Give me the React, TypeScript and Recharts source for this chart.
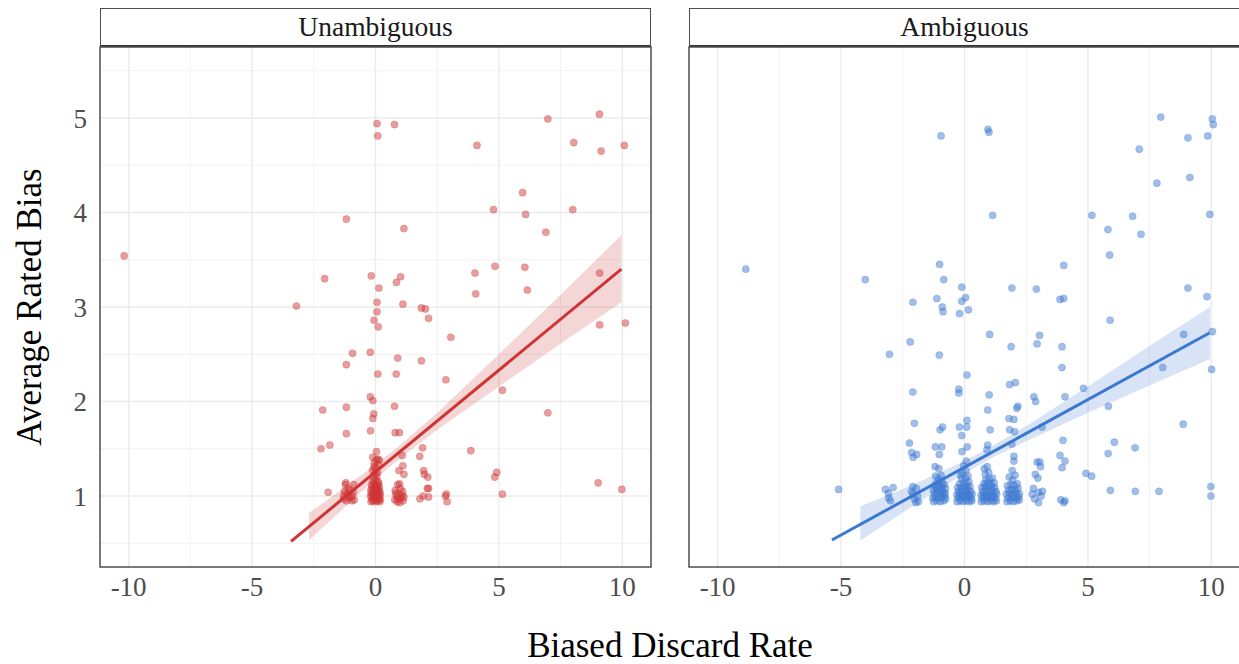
import React from 'react';
import {
  ComposedChart,
  XAxis,
  YAxis,
  CartesianGrid,
  Scatter,
  Line,
  Area,
  ReferenceArea,
} from 'recharts';

// ---- axes ----
const X_DOMAIN: [number, number] = [-11.16, 11.16];
const Y_DOMAIN: [number, number] = [0.249, 5.751];
const xTicks = [-10, -5, 0, 5, 10];
const xMinor = [-7.5, -2.5, 2.5, 7.5];
const yTicks = [1, 2, 3, 4, 5];
const yMinor = [0.5, 1.5, 2.5, 3.5, 4.5, 5.5];

const panelTitles = ['Unambiguous', 'Ambiguous'];
const xTitle = 'Biased Discard Rate';
const yTitle = 'Average Rated Bias';

// ---- Unambiguous condition ----
const unambPoints: [number, number][] = [
  [-10.18, 3.54], [0.06, 4.94], [0.77, 4.93], [0.09, 4.81], [6.98, 4.99], [9.07, 5.04],
  [4.11, 4.71], [8.03, 4.74], [9.14, 4.65], [10.08, 4.71], [5.96, 4.21], [4.78, 4.03],
  [6.08, 3.98], [7.99, 4.03], [6.9, 3.79], [-1.18, 3.93], [1.15, 3.83], [-2.06, 3.3],
  [-0.17, 3.33], [1.02, 3.32], [0.85, 3.26], [4.03, 3.36], [4.84, 3.43], [6.05, 3.42],
  [9.08, 3.36], [0.14, 3.2], [4.06, 3.14], [6.15, 3.18], [-3.2, 3.01], [0.06, 3.05],
  [1.11, 3.03], [1.86, 2.99], [2.02, 2.98], [0.06, 2.95], [2.15, 2.88], [-0.06, 2.86],
  [0.11, 2.79], [3.05, 2.68], [9.08, 2.81], [10.12, 2.83],
  [-0.93, 2.51], [-0.21, 2.52], [-1.18, 2.39], [0.9, 2.46], [1.86, 2.43], [0.09, 2.29],
  [0.84, 2.29], [2.85, 2.23], [5.14, 2.12], [-0.21, 2.05], [-0.11, 2.01], [-2.14, 1.91],
  [-1.18, 1.94], [0.77, 1.95], [-0.07, 1.87], [-0.11, 1.82], [6.98, 1.88], [-1.18, 1.66],
  [-0.2, 1.69], [0.8, 1.67], [0.97, 1.67], [-2.21, 1.5], [-1.85, 1.54], [3.86, 1.48],
  [0.04, 1.47], [1.91, 1.51], [1.79, 1.42], [-0.11, 1.41], [0.09, 1.39], [0.16, 1.38],
  [1.08, 1.43], [-0.06, 1.31], [1.11, 1.32], [0.95, 1.27], [1.95, 1.27], [1.15, 1.23],
  [1.98, 1.23], [2.12, 1.2], [4.91, 1.25], [4.83, 1.2], [9.02, 1.14], [9.98, 1.07],
  [5.14, 1.02], [-1.92, 1.04],
  // around 2 and 3
  [2.83, 1.0], [2.87, 1.02], [2.9, 0.94], [1.8, 0.97], [1.93, 1.0], [2.15, 0.99],
  [2.1, 1.08], [2.15, 1.08],
  // around -1
  [-1.2, 1.14], [-1.22, 1.12], [-0.88, 1.12], [-1.25, 1.05], [-1.15, 1.02], [-1.05, 0.98],
  [-0.95, 1.0], [-1.3, 0.97], [-1.18, 0.95], [-1.1, 1.08], [-0.9, 1.04], [-0.95, 0.95],
  [-1.28, 1.01], [-1.02, 1.06], [-1.12, 0.99], [-0.86, 0.96],
  // around 1
  [0.9, 1.12], [0.98, 1.13], [0.8, 1.06], [1.1, 1.05], [0.85, 1.0], [0.95, 1.02],
  [1.05, 0.98], [0.78, 0.96], [1.12, 0.95], [0.88, 0.94], [1.0, 1.08], [0.92, 0.97],
  [1.08, 1.01], [0.82, 1.03], [1.15, 0.99], [0.98, 0.93],
  // around 0
  [-0.18, 0.94], [-0.1, 0.95], [0.0, 0.94], [0.08, 0.95], [0.17, 0.94],
  [-0.15, 0.97], [-0.05, 0.98], [0.05, 0.97], [0.14, 0.98], [0.2, 0.96],
  [-0.2, 1.0], [-0.12, 1.01], [-0.02, 1.0], [0.1, 1.01], [0.18, 1.0],
  [-0.17, 1.03], [-0.07, 1.04], [0.03, 1.03], [0.12, 1.04], [0.19, 1.03],
  [-0.19, 1.06], [-0.09, 1.07], [0.01, 1.06], [0.09, 1.07], [0.16, 1.06],
  [-0.14, 1.09], [-0.04, 1.1], [0.06, 1.09], [0.15, 1.1],
  [-0.16, 1.12], [-0.06, 1.13], [0.04, 1.12], [0.13, 1.13],
  [-0.1, 1.16], [0.02, 1.17], [0.11, 1.15],
  [-0.08, 1.2], [0.05, 1.21], [-0.02, 1.24], [0.08, 1.25], [-0.12, 1.27], [0.0, 1.3],
  [0.12, 1.33], [-0.05, 1.35], [0.03, 1.38],
];
const unambFitX = [-3.42, 9.96];
const unambFitY = [0.52, 3.4];
const unambBandX = [-2.69, 0, 1, 2.5, 5, 7.5, 9.96];
const unambBandLo = [0.535, 1.18, 1.4, 1.7, 2.16, 2.61, 3.05];
const unambBandHi = [0.82, 1.33, 1.54, 1.88, 2.5, 3.13, 3.76];

// ---- Ambiguous condition ----
const ambPoints: [number, number][] = [
  [-8.86, 3.4], [-0.95, 4.81], [0.95, 4.88], [0.99, 4.85], [7.95, 5.01], [10.04, 4.99],
  [10.08, 4.93], [9.05, 4.79], [9.85, 4.81], [7.08, 4.67], [7.79, 4.31], [9.13, 4.37],
  [1.14, 3.97], [5.16, 3.97], [6.81, 3.96], [9.94, 3.98], [5.81, 3.82], [7.15, 3.77],
  [5.88, 3.55], [-1.01, 3.45], [-4.02, 3.29], [-0.84, 3.29], [4.02, 3.44], [-0.11, 3.21],
  [1.92, 3.2], [2.91, 3.19], [-2.09, 3.05], [-1.12, 3.09], [-0.11, 3.06], [0.04, 3.1],
  [3.87, 3.08], [4.02, 3.09], [-0.9, 3.0], [-0.87, 2.95], [-0.2, 2.93], [0.16, 2.97],
  [9.05, 3.2], [9.82, 3.11], [5.9, 2.86], [1.02, 2.71], [3.04, 2.7], [-2.2, 2.63],
  [8.88, 2.71], [10.04, 2.74],
  [-3.04, 2.5], [-1.02, 2.49], [1.89, 2.58], [2.94, 2.61], [3.95, 2.58], [3.95, 2.36],
  [8.03, 2.36], [10.01, 2.34], [0.1, 2.28], [-2.09, 2.1], [-0.23, 2.13], [-0.23, 2.09],
  [1.0, 2.07], [1.83, 2.18], [2.06, 2.2], [2.81, 2.05], [2.88, 2.0], [4.07, 2.05],
  [4.82, 2.14], [5.83, 1.95], [0.94, 1.91], [2.12, 1.93], [2.16, 1.95], [-2.03, 1.77],
  [-0.99, 1.7], [-0.89, 1.73], [0.1, 1.8], [-0.21, 1.73], [0.09, 1.73], [1.8, 1.82],
  [2.0, 1.81], [1.04, 1.7], [1.83, 1.7], [2.03, 1.68], [3.14, 1.73], [8.86, 1.76],
  [-0.11, 1.64], [1.92, 1.55], [3.99, 1.59], [6.07, 1.57], [6.91, 1.51], [-2.23, 1.56],
  [-2.14, 1.46], [-1.94, 1.44], [-2.08, 1.41], [-1.18, 1.52], [-0.92, 1.52], [-1.02, 1.44],
  [-0.1, 1.47], [0.11, 1.52], [0.94, 1.54], [0.91, 1.49], [3.87, 1.43], [4.07, 1.37],
  [3.95, 1.3], [5.82, 1.45], [2.0, 1.42], [2.0, 1.37], [2.94, 1.36], [3.05, 1.36],
  [3.08, 1.31], [-1.19, 1.31], [-1.04, 1.29], [0.07, 1.37], [-0.04, 1.32], [4.92, 1.24],
  [5.15, 1.21], [2.87, 1.23], [2.97, 1.19], [-5.1, 1.07], [-3.2, 1.07], [-2.89, 1.09],
  [-3.08, 1.03], [-3.07, 0.98], [-3.0, 0.95], [5.91, 1.06], [6.92, 1.05], [7.88, 1.05],
  [9.98, 1.1], [9.98, 1.0], [3.9, 0.96], [4.07, 0.95], [4.02, 0.93],
  // around 3
  [2.79, 1.08], [3.0, 1.04], [3.16, 1.05], [2.74, 1.02], [2.84, 0.97], [3.0, 0.93], [3.1, 1.0],
  // around -2
  [-2.09, 1.1], [-1.95, 1.08], [-2.09, 1.02], [-1.87, 0.94], [-1.97, 0.93], [-2.15, 1.05],
  [-1.9, 1.0], [-2.03, 0.97],
  // around -1
  [-1.25, 0.94], [-1.12, 0.95], [-0.98, 0.94], [-0.84, 0.95], [-0.76, 0.97],
  [-1.28, 0.98], [-1.18, 0.99], [-1.05, 0.98], [-0.92, 0.99], [-0.8, 1.0],
  [-1.22, 1.02], [-1.09, 1.03], [-0.96, 1.02], [-0.86, 1.04], [-0.78, 1.03],
  [-1.26, 1.06], [-1.14, 1.07], [-1.01, 1.06], [-0.89, 1.07], [-0.77, 1.08],
  [-1.2, 1.1], [-1.06, 1.11], [-0.94, 1.1], [-0.82, 1.12],
  [-1.17, 1.13], [-1.03, 1.15], [-0.9, 1.14], [-1.05, 1.18], [-1.17, 1.21], [-0.95, 1.22],
  // around 0
  [-0.3, 0.94], [-0.18, 0.95], [-0.05, 0.94], [0.08, 0.95], [0.2, 0.94], [0.3, 0.95],
  [-0.26, 0.98], [-0.12, 0.99], [0.02, 0.98], [0.15, 0.99], [0.27, 0.98],
  [-0.31, 1.01], [-0.2, 1.02], [-0.07, 1.01], [0.06, 1.02], [0.19, 1.01], [0.31, 1.02],
  [-0.25, 1.05], [-0.1, 1.06], [0.03, 1.05], [0.13, 1.06], [0.25, 1.05],
  [-0.28, 1.09], [-0.15, 1.09], [0.0, 1.1], [0.11, 1.09], [0.22, 1.1],
  [-0.2, 1.13], [-0.04, 1.14], [0.09, 1.13], [0.18, 1.15],
  [-0.12, 1.18], [0.04, 1.19], [0.14, 1.21], [-0.08, 1.24], [0.06, 1.27], [-0.16, 1.22],
  // around 1
  [0.68, 0.94], [0.8, 0.95], [0.93, 0.94], [1.06, 0.95], [1.18, 0.94], [1.29, 0.95],
  [0.72, 0.98], [0.86, 0.99], [0.99, 0.98], [1.12, 0.99], [1.25, 0.98],
  [0.67, 1.01], [0.78, 1.02], [0.91, 1.01], [1.04, 1.02], [1.17, 1.01], [1.3, 1.02],
  [0.74, 1.05], [0.88, 1.06], [1.01, 1.05], [1.14, 1.06], [1.27, 1.05],
  [0.7, 1.09], [0.83, 1.1], [0.96, 1.09], [1.09, 1.1], [1.22, 1.09],
  [0.79, 1.13], [0.94, 1.14], [1.07, 1.13], [1.2, 1.14],
  [0.86, 1.17], [1.0, 1.18], [1.13, 1.19], [0.84, 1.23], [0.98, 1.25], [0.8, 1.29], [0.92, 1.31],
  // around 2
  [1.72, 0.94], [1.85, 0.95], [1.98, 0.94], [2.12, 0.95], [2.22, 0.96],
  [1.76, 0.98], [1.9, 0.99], [2.04, 0.98], [2.18, 0.99],
  [1.7, 1.02], [1.83, 1.03], [1.96, 1.02], [2.1, 1.03], [2.23, 1.02],
  [1.78, 1.06], [1.92, 1.07], [2.06, 1.06], [2.17, 1.08],
  [1.74, 1.11], [1.88, 1.12], [2.02, 1.11], [2.14, 1.13],
  [1.95, 1.17], [1.81, 1.2], [2.05, 1.22], [1.93, 1.27],
];
const ambFitX = [-5.37, 9.92];
const ambFitY = [0.535, 2.725];
const ambBandX = [-4.22, -2, 0, 1, 2.5, 5, 7.5, 9.95];
const ambBandLo = [0.53, 0.91, 1.235, 1.39, 1.58, 1.88, 2.17, 2.45];
const ambBandHi = [0.89, 1.13, 1.37, 1.51, 1.74, 2.16, 2.59, 3.0];

const RED = '#CF3434';
const BLUE = '#3B78D1';
const SERIF = '"Liberation Serif", "Times New Roman", serif';
const BORDER = '#4d4d4d';

type PanelProps = {
  left: number;
  title: string;
  color: string;
  points: [number, number][];
  fitX: number[];
  fitY: number[];
  bandX: number[];
  bandLo: number[];
  bandHi: number[];
  showY: boolean;
};

const CHART_W = 660;
const CHART_H = 664;
const MARGIN = { top: 47, right: 9, bottom: 57, left: 30 };
const Y_AXIS_W = 70;

function Panel(p: PanelProps) {
  const pts = p.points.map(([x, y]) => ({ x, y }));
  const fit = p.fitX.map((x, i) => ({ x, y: p.fitY[i] }));
  const band = p.bandX.map((x, i) => ({ x, range: [p.bandLo[i], p.bandHi[i]] }));
  const tickStyle = { fontFamily: SERIF, fontSize: 27, fill: '#4d4d4d' };
  const dot = (props: any) => (
    <circle
      cx={props.cx}
      cy={props.cy}
      r={3.6}
      fill={p.color}
      fillOpacity={0.48}
      stroke={p.color}
      strokeOpacity={0.3}
      strokeWidth={0.8}
    />
  );
  const plotLeft = MARGIN.left + Y_AXIS_W;
  const plotW = CHART_W - plotLeft - MARGIN.right;
  return (
    <div style={{ position: 'absolute', left: p.left, top: 0, width: CHART_W, height: CHART_H }}>
      <div
        style={{
          position: 'absolute',
          left: plotLeft,
          top: 8,
          width: plotW,
          height: 39,
          boxSizing: 'border-box',
          border: `1.5px solid ${BORDER}`,
          borderBottom: '2px solid #333',
          display: 'flex',
          alignItems: 'center',
          justifyContent: 'center',
          fontFamily: SERIF,
          fontSize: 27.5,
          color: '#1a1a1a',
          background: '#fff',
        }}
      >
        {p.title}
      </div>
      <ComposedChart width={CHART_W} height={CHART_H} margin={MARGIN}>
        <CartesianGrid
          stroke="#f1f1f1"
          strokeWidth={1}
          horizontalValues={yMinor}
          verticalValues={xMinor}
        />
        <CartesianGrid
          stroke="#ebebeb"
          strokeWidth={1.4}
          horizontalValues={yTicks}
          verticalValues={xTicks}
        />
        <XAxis
          type="number"
          dataKey="x"
          domain={X_DOMAIN}
          ticks={xTicks}
          allowDataOverflow
          axisLine={false}
          tickLine={false}
          tickSize={6}
          tickMargin={4}
          height={40}
          tick={tickStyle}
        />
        <YAxis
          type="number"
          dataKey="y"
          domain={Y_DOMAIN}
          ticks={yTicks}
          allowDataOverflow
          axisLine={false}
          tickLine={false}
          tickSize={6}
          tickMargin={7}
          width={Y_AXIS_W}
          tick={p.showY ? tickStyle : false}
        />
        <Area
          data={band}
          dataKey="range"
          type="linear"
          stroke="none"
          fill={p.color}
          fillOpacity={0.2}
          isAnimationActive={false}
          dot={false}
          activeDot={false}
        />
        <Scatter data={pts} dataKey="y" shape={dot} isAnimationActive={false} />
        <Line
          data={fit}
          dataKey="y"
          type="linear"
          stroke={p.color}
          strokeWidth={3}
          dot={false}
          activeDot={false}
          isAnimationActive={false}
        />
        <ReferenceArea
          x1={X_DOMAIN[0]}
          x2={X_DOMAIN[1]}
          y1={Y_DOMAIN[0]}
          y2={Y_DOMAIN[1]}
          fill="none"
          stroke={BORDER}
          strokeWidth={1.5}
          ifOverflow="visible"
        />
      </ComposedChart>
    </div>
  );
}

export default function App() {
  return (
    <div
      style={{
        position: 'absolute',
        left: 0,
        top: 0,
        width: 1239,
        height: 664,
        overflow: 'hidden',
        background: '#fff',
      }}
    >
      <Panel
        left={0}
        title={panelTitles[0]}
        color={RED}
        points={unambPoints}
        fitX={unambFitX}
        fitY={unambFitY}
        bandX={unambBandX}
        bandLo={unambBandLo}
        bandHi={unambBandHi}
        showY
      />
      <Panel
        left={589}
        title={panelTitles[1]}
        color={BLUE}
        points={ambPoints}
        fitX={ambFitX}
        fitY={ambFitY}
        bandX={ambBandX}
        bandLo={ambBandLo}
        bandHi={ambBandHi}
        showY={false}
      />
      <div
        style={{
          position: 'absolute',
          left: 30,
          top: 307,
          transform: 'translate(-50%, -50%) rotate(-90deg)',
          whiteSpace: 'nowrap',
          fontFamily: SERIF,
          fontSize: 35,
          color: '#000',
        }}
      >
        {yTitle}
      </div>
      <div
        style={{
          position: 'absolute',
          left: 670,
          top: 646,
          transform: 'translate(-50%, -50%)',
          whiteSpace: 'nowrap',
          fontFamily: SERIF,
          fontSize: 35,
          color: '#000',
        }}
      >
        {xTitle}
      </div>
    </div>
  );
}
